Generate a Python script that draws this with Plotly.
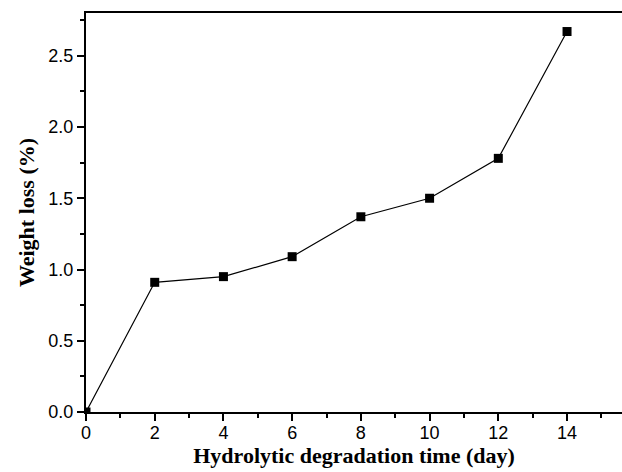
import plotly.graph_objects as go

days = [0, 2, 4, 6, 8, 10, 12, 14]
weight_loss = [0.0, 0.91, 0.95, 1.09, 1.37, 1.50, 1.78, 2.67]
x_ticks = [0, 2, 4, 6, 8, 10, 12, 14]
y_ticks = [0.0, 0.5, 1.0, 1.5, 2.0, 2.5]
y_tick_text = ["0.0", "0.5", "1.0", "1.5", "2.0", "2.5"]

fig = go.Figure()
fig.add_trace(go.Scatter(
    x=days, y=weight_loss, mode="lines+markers",
    line=dict(color="black", width=1.2),
    marker=dict(symbol="square", size=9, color="black"),
    showlegend=False,
))

axis_font = dict(family="Liberation Sans, Arial", size=18, color="black")
title_font = dict(family="Liberation Serif, Times New Roman", size=22, color="black")

fig.update_layout(
    width=622, height=472,
    margin=dict(l=86, r=0, t=13, b=60),
    plot_bgcolor="white", paper_bgcolor="white",
    xaxis=dict(
        range=[0, 15.6], tickvals=x_ticks, ticktext=[str(v) for v in x_ticks],
        showgrid=False, zeroline=False, showline=True, linecolor="black", linewidth=2,
        mirror=True, ticks="outside", ticklen=7, tickwidth=2, tickcolor="black",
        ticklabelstandoff=-4,
        minor=dict(dtick=1, tick0=0, ticks="outside", ticklen=4, tickwidth=2, tickcolor="black"),
        tickfont=axis_font,
        title=dict(text="<b>Hydrolytic degradation time (day)</b>", font=title_font, standoff=6),
    ),
    yaxis=dict(
        range=[0, 2.8], tickvals=y_ticks, ticktext=y_tick_text,
        showgrid=False, zeroline=False, showline=True, linecolor="black", linewidth=2,
        ticks="outside", ticklen=7, tickwidth=2, tickcolor="black",
        minor=dict(dtick=0.25, tick0=0, ticks="outside", ticklen=4, tickwidth=2, tickcolor="black"),
        tickfont=axis_font,
        title=dict(text="<b>Weight loss (%)</b>", font=title_font, standoff=8),
    ),
)

fig.write_html("out.html")
